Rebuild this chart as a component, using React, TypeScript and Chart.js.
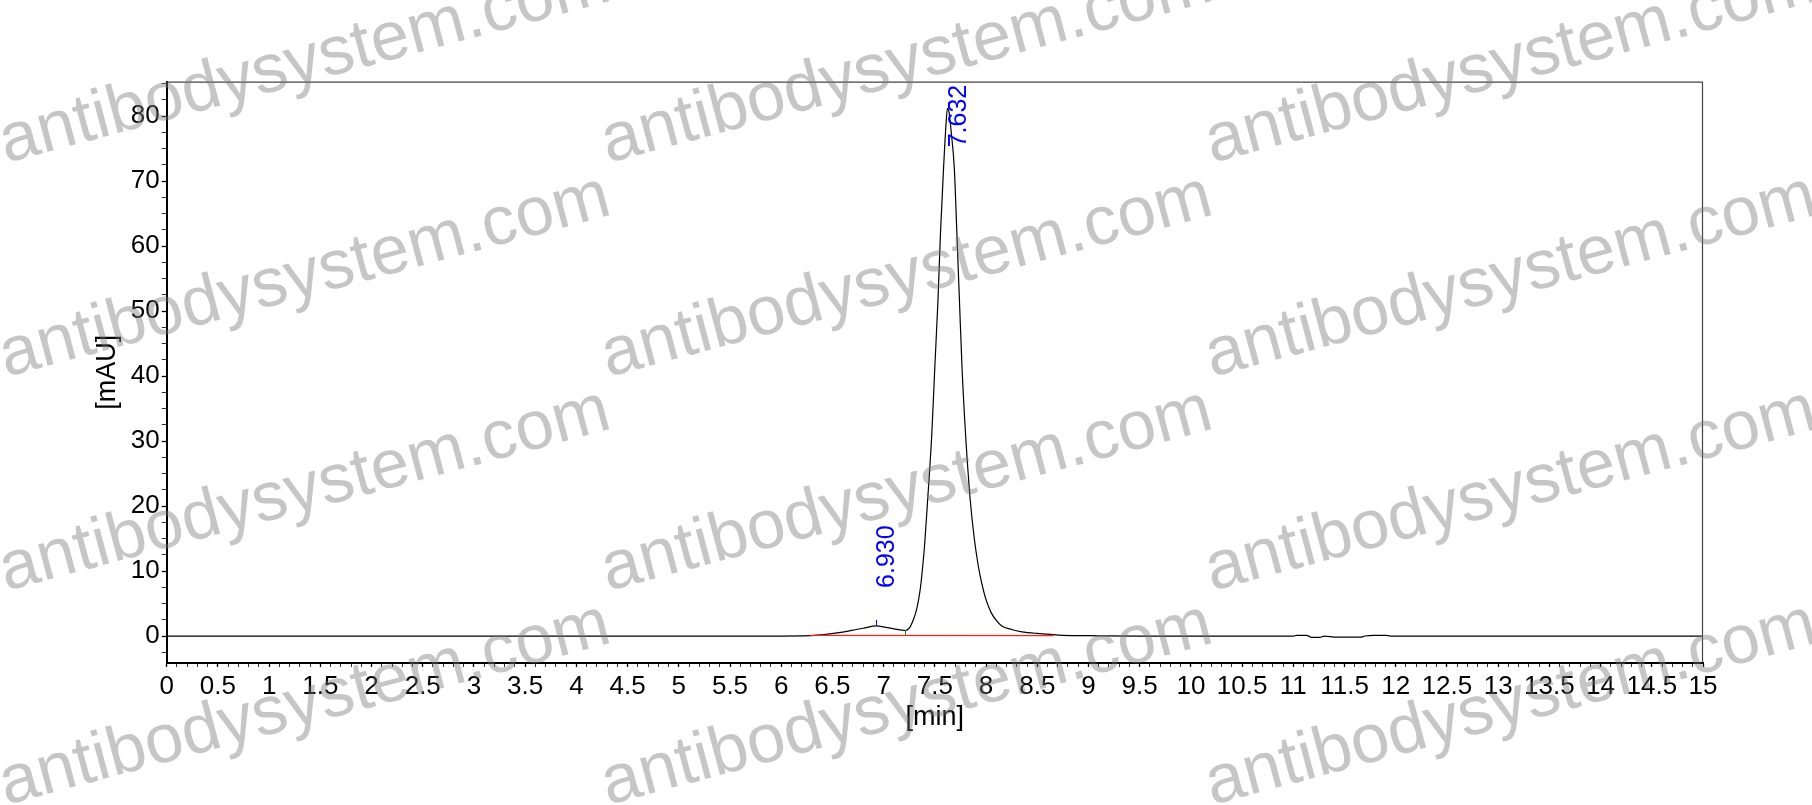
import React, { useEffect, useRef } from "react";
import { Chart, registerables } from "chart.js";

Chart.register(...registerables);

// ---- data ----
const timeMin: number[] = [
  0, 6.0, 6.28, 6.4, 6.51, 6.6, 6.7, 6.8, 6.93, 7.0, 7.1, 7.21, 7.25, 7.29, 7.32, 7.34,
  7.36, 7.38, 7.4, 7.43, 7.47, 7.5, 7.53, 7.555, 7.585, 7.61, 7.623, 7.64, 7.66, 7.69,
  7.715, 7.74, 7.765, 7.8, 7.845, 7.885, 7.925, 7.96, 8.0, 8.05, 8.1, 8.15, 8.25, 8.35,
  8.5, 8.6, 8.75, 9.0, 9.5, 11.0, 11.03, 11.13, 11.18, 11.26, 11.3, 11.42, 11.65, 11.7,
  11.78, 11.9, 11.95, 15,
];
const signalMAU: number[] = [
  0, 0, 0.05, 0.2, 0.4, 0.6, 0.9, 1.2, 1.55, 1.4, 1.1, 0.85, 1.2, 2.5, 4.0, 5.5,
  7.5, 10.5, 14, 21, 31, 41.5, 51.5, 62, 72, 79, 81.2, 80.5, 77.5, 72,
  62, 51.7, 41.4, 31, 21, 15, 10.7, 8, 5.6, 3.6, 2.4, 1.6, 1.0, 0.65,
  0.4, 0.3, 0.1, 0.05, 0, 0, 0.1, 0.1, -0.2, -0.2, 0, -0.18, -0.18, 0,
  0.1, 0.1, 0, 0,
];
const baselineTime: number[] = [6.28, 8.66];
const baselineMAU: number[] = [0.1, 0.05];

const peakTimes: number[] = [6.93, 7.632];
const peakApexMAU: number[] = [1.55, 81.2];
const peakLabels: string[] = ["6.930", "7.632"];
const peakLabelStartMAU: number[] = [7.4, 75.2];
const valleyTimes: number[] = [7.21];
const valleyMAU: number[] = [0.85];

const xTitle = "[min]";
const yTitle = "[mAU]";
const watermarkText = "antibodysystem.com";

const FONT = "'Liberation Sans', Arial, sans-serif";
const TICK_SIZE = 26;
const TITLE_SIZE = 27;

const decorPlugin = {
  id: "decor",
  afterDatasetsDraw(chart: any) {
    const { ctx, chartArea, scales } = chart;
    const xs = scales.x;
    const ys = scales.y;
    ctx.save();
    // top / right frame
    ctx.strokeStyle = "#444";
    ctx.lineWidth = 1.2;
    ctx.beginPath();
    ctx.moveTo(chartArea.left, chartArea.top + 0.5);
    ctx.lineTo(chartArea.right, chartArea.top + 0.5);
    ctx.moveTo(chartArea.right - 0.5, chartArea.top);
    ctx.lineTo(chartArea.right - 0.5, chartArea.bottom);
    ctx.stroke();

    // apex ticks (blue) and valley tick (green)
    ctx.lineWidth = 1;
    ctx.strokeStyle = "#0000ff";
    peakTimes.forEach((t, i) => {
      const px = Math.round(xs.getPixelForValue(t)) + 0.5;
      const py = ys.getPixelForValue(peakApexMAU[i]);
      ctx.beginPath();
      ctx.moveTo(px, py);
      ctx.lineTo(px, py - 6);
      ctx.stroke();
    });
    ctx.strokeStyle = "#00a000";
    valleyTimes.forEach((t, i) => {
      const px = Math.round(xs.getPixelForValue(t)) + 0.5;
      const py = ys.getPixelForValue(valleyMAU[i]);
      ctx.beginPath();
      ctx.moveTo(px, py);
      ctx.lineTo(px, py + 5);
      ctx.stroke();
    });

    // peak labels
    ctx.fillStyle = "#0000ff";
    ctx.font = `25px ${FONT}`;
    ctx.textAlign = "left";
    ctx.textBaseline = "alphabetic";
    peakTimes.forEach((t, i) => {
      const px = xs.getPixelForValue(t);
      const py = ys.getPixelForValue(peakLabelStartMAU[i]);
      ctx.save();
      ctx.translate(px + 18, py);
      ctx.rotate(-Math.PI / 2);
      ctx.fillText(peakLabels[i], 0, 0);
      ctx.restore();
    });
    ctx.restore();
  },
  afterDraw(chart: any) {
    const { ctx } = chart;
    ctx.save();
    ctx.fillStyle = "rgba(120,120,120,0.42)";
    ctx.font = `69px ${FONT}`;
    ctx.textAlign = "left";
    ctx.textBaseline = "alphabetic";
    const cols = [6, 608, 1212];
    const rows = [163, 377, 591, 805];
    cols.forEach((cx) => {
      rows.forEach((ry) => {
        ctx.save();
        ctx.translate(cx, ry);
        ctx.rotate((-15 * Math.PI) / 180);
        ctx.fillText(watermarkText, 0, 0);
        ctx.restore();
      });
    });
    ctx.restore();
  },
};

function isMultiple(v: number, step: number) {
  const r = v / step;
  return Math.abs(r - Math.round(r)) < 1e-6;
}

export default function App() {
  const canvasRef = useRef<HTMLCanvasElement | null>(null);

  useEffect(() => {
    if (!canvasRef.current) return;
    Chart.defaults.font.family = FONT;
    const chart = new Chart(canvasRef.current, {
      type: "scatter",
      data: {
        datasets: [
          {
            data: timeMin.map((t, i) => ({ x: t, y: signalMAU[i] })),
            showLine: true,
            borderColor: "#000",
            borderWidth: 1.2,
            pointRadius: 0,
            cubicInterpolationMode: "monotone",
            order: 2,
          },
          {
            data: baselineTime.map((t, i) => ({ x: t, y: baselineMAU[i] })),
            showLine: true,
            borderColor: "#ff2020",
            borderWidth: 1.2,
            pointRadius: 0,
            order: 1,
          },
        ],
      },
      plugins: [decorPlugin],
      options: {
        animation: false,
        responsive: true,
        maintainAspectRatio: false,
        events: [],
        layout: { padding: { left: 0, top: 81.7, right: 109, bottom: 0 } },
        plugins: {
          legend: { display: false },
          tooltip: { enabled: false },
        },
        scales: {
          x: {
            type: "linear",
            min: 0,
            max: 15,
            afterFit: (s: any) => {
              s.height = 142;
            },
            border: { display: true, color: "#000", width: 2 },
            grid: {
              display: true,
              drawOnChartArea: false,
              drawTicks: true,
              tickLength: 4,
              tickColor: "#000",
              tickWidth: (c: any) => (isMultiple(c.tick.value, 0.5) ? 1.3 : 0.8),
            },
            ticks: {
              stepSize: 0.1,
              autoSkip: false,
              maxRotation: 0,
              minRotation: 0,
              padding: 4,
              color: "#000",
              font: { size: TICK_SIZE, family: FONT },
              callback: (v: any) => {
                const n = Number(v);
                if (!isMultiple(n, 0.5)) return "";
                return String(Math.round(n * 2) / 2);
              },
            },
            title: {
              display: true,
              text: xTitle,
              color: "#000",
              font: { size: TITLE_SIZE, family: FONT },
              padding: { top: 0, bottom: 70.8 },
            },
          },
          y: {
            type: "linear",
            min: -4.15,
            max: 85.3,
            afterFit: (s: any) => {
              s.width = 166.7;
            },
            border: { display: true, color: "#000", width: 2 },
            grid: {
              display: true,
              drawOnChartArea: false,
              drawTicks: true,
              tickLength: 5,
              tickColor: "#000",
              tickWidth: (c: any) => (isMultiple(c.tick.value, 10) ? 1.3 : 0.8),
            },
            ticks: {
              stepSize: 2.5,
              includeBounds: false,
              autoSkip: false,
              padding: 2,
              color: "#000",
              font: { size: TICK_SIZE, family: FONT },
              callback: (v: any) => {
                const n = Number(v);
                if (!isMultiple(n, 10) || n < 0 || n > 80) return "";
                return String(Math.round(n));
              },
            },
            title: {
              display: true,
              text: yTitle,
              color: "#000",
              font: { size: TITLE_SIZE, family: FONT },
              padding: { top: 91.8, bottom: 0 },
            },
          },
        },
      },
    } as any);
    return () => chart.destroy();
  }, []);

  return (
    <div style={{ position: "absolute", left: 0, top: 0, width: 1812, height: 805, background: "#fff" }}>
      <canvas ref={canvasRef} />
    </div>
  );
}
